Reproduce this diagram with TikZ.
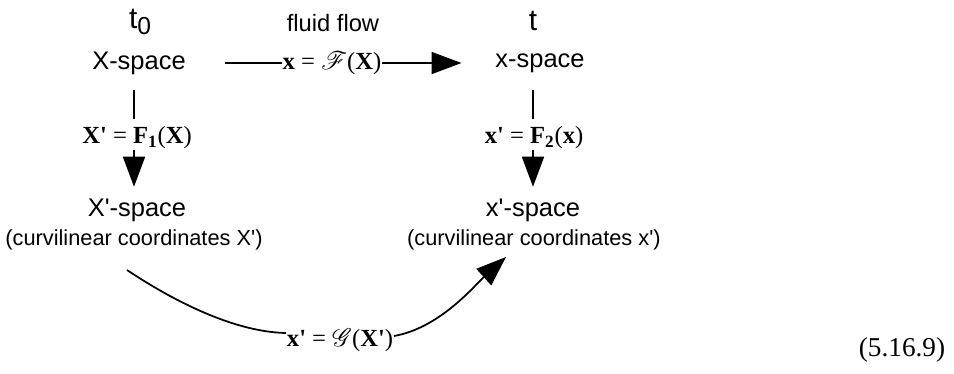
\documentclass[tikz,border=0pt]{standalone}
\usepackage{fontspec}
\usepackage{mathrsfs}
\usetikzlibrary{arrows.meta}
\setmainfont{Liberation Sans}
\newfontfamily\tmfont{Liberation Serif}
\newcommand\prm{\textquotesingle}
\begin{document}
\begin{tikzpicture}[x=0.02cm,y=-0.02cm, line join=round, line width=1pt,
    >={Triangle[length=0.6cm,width=0.44cm]},
    txt/.style={inner sep=0pt, font=\fontsize{14.5}{17}\selectfont},
    curv/.style={inner sep=0pt, font=\fontsize{12.4}{15}\selectfont},
    tlbl/.style={inner sep=0pt, font=\fontsize{17}{20}\selectfont},
    maplbl/.style={inner sep=0pt, font=\tmfont\fontsize{14}{16}\selectfont}]
    \useasboundingbox (0,0) rectangle (954,373);
    % top row
    \node[tlbl] (tzero) at (140,22) {t\raisebox{-0.35ex}{\fontsize{14}{16}\selectfont 0}};
    \node[inner sep=0pt, font=\fontsize{13.5}{16}\selectfont] (flow) at (333,23) {fluid flow};
    \node[tlbl] (tend) at (533,21) {t};
    \node[txt] (Xsp) at (139,63) {X-space};
    \node[txt] (xsp) at (540,63) {x-space};
    % lower row
    \node[txt] (Xpsp) at (137,210) {X\prm-space};
    \node[curv] (Xcurv) at (134,240) {(curvilinear coordinates X\prm)};
    \node[txt] (xpsp) at (533,210) {x\prm-space};
    \node[curv] (xcurv) at (534,240) {(curvilinear coordinates x\prm)};
    % map labels
    \node[maplbl] (Fmap) at (332,63) {\textbf{x} = $\mathscr{F}$(\textbf{X})};
    \node[maplbl] (Fone) at (137,138) {\textbf{X\prm} = \textbf{F}\textsubscript{\textbf{1}}(\textbf{X})};
    \node[maplbl] (Ftwo) at (534,138) {\textbf{x\prm} = \textbf{F}\textsubscript{\textbf{2}}(\textbf{x})};
    \node[maplbl] (Gmap) at (340,340) {\textbf{x\prm} = $\mathscr{G}$(\textbf{X\prm})};
    \node[inner sep=0pt, font=\tmfont\fontsize{15.5}{18}\selectfont] (eqno) at (902,350) {(5.16.9)};
    % connectors
    \coordinate (hstart) at (225,63);
    \coordinate (vleft) at (134,90);
    \coordinate (vright) at (533,90);
    \coordinate (cstart) at (127,270);
    \coordinate (ctip) at (506,257);
    \draw (hstart) -- (Fmap.west);
    \draw[->] (Fmap.east) -- (xsp.west) [shorten >=0.66cm];
    \draw (vleft) -- (vleft |- Fone.north) [shorten >=0.14cm];
    \draw (vright) -- (vright |- Ftwo.north) [shorten >=0.14cm];
    \draw[->] (vleft |- Fone.south) -- (vleft |- Xpsp.north) [shorten >=0.22cm];
    \draw[->] (vright |- Ftwo.south) -- (vright |- xpsp.north) [shorten >=0.22cm];
    \draw (cstart) .. controls (175,302) and (235,332) .. ([yshift=0.14cm]Gmap.west);
    \draw[->] ([yshift=0.08cm]Gmap.east) .. controls (440,328) and (475,285) .. (ctip);
\end{tikzpicture}
\end{document}
